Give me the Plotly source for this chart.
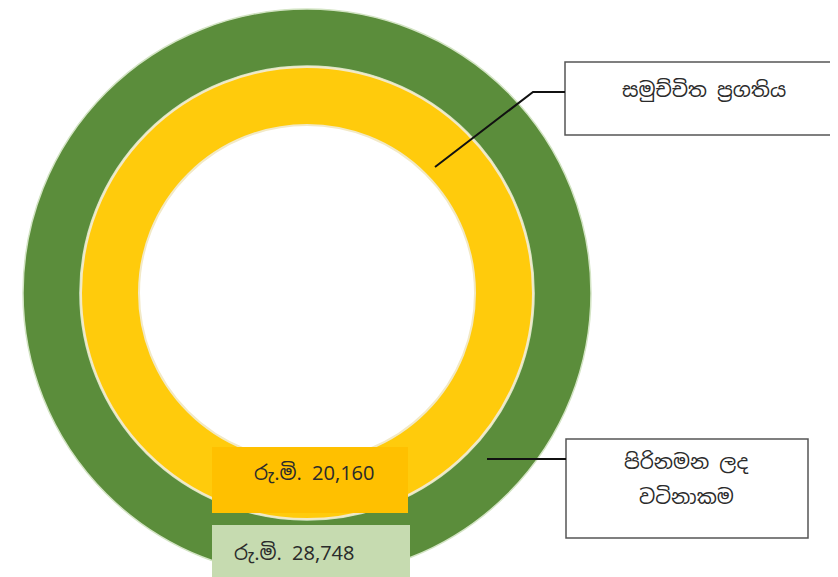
import plotly.graph_objects as go

# data
ring_names = ["පිරිනමන ලද වටිනාකම", "සමුච්චිත ප්‍රගතිය"]
ring_values = [28748, 20160]
value_labels = ["රු.මි. 28,748", "රු.මි. 20,160"]
callout_lines = [["පිරිනමන ලද", "වටිනාකම"], ["සමුච්චිත ප්‍රගතිය"]]

# page has an 8px body margin, so the figure is 8px smaller and coords are shifted
OFF = 8
W, H = 838 - OFF, 577 - OFF
FONT = "Noto Sans Sinhala, Noto Sans, sans-serif"


def px(x):
    return (x - OFF) / W


def py(y):
    # screen pixel from top -> paper from bottom
    return 1 - (y - OFF) / H


def ring_domain(cx, cy, r):
    return dict(x=[px(cx - r), px(cx + r)], y=[max(0, py(cy + r)), min(1, py(cy - r))])


cx, cy = 307, 293

fig = go.Figure()

# outer ring (green)
fig.add_trace(go.Pie(
    values=[ring_values[0]], labels=[ring_names[0]],
    domain=ring_domain(cx, cy, 284), hole=227 / 284,
    marker=dict(colors=["#5B8D3B"], line=dict(color="#D3E4C4", width=1.5)),
    textinfo="none", sort=False, showlegend=False,
))
# inner ring (yellow)
fig.add_trace(go.Pie(
    values=[ring_values[1]], labels=[ring_names[1]],
    domain=ring_domain(cx, cy, 226), hole=168 / 226,
    marker=dict(colors=["#FFCB0C"], line=dict(color="#F2E9C6", width=2)),
    textinfo="none", sort=False, showlegend=False,
))

shapes = []
annotations = []


def add_text(txt, x, y, size):
    # left anchored: plotly mis-measures the Sinhala runs when centering
    annotations.append(dict(x=px(x), y=py(y), xref="paper", yref="paper",
                            text=txt, showarrow=False, xanchor="left", align="left",
                            yanchor="middle",
                            font=dict(family=FONT, size=size, color="#2B2B2B")))


# value label boxes
boxes = [
    dict(x0=212, x1=410, y0=525, y1=585, fill="#C6DBB0", tx=232, ty=553),
    dict(x0=212, x1=408, y0=447, y1=513, fill="#FFC000", tx=252, ty=473),
]
for b, txt in zip(boxes, value_labels):
    shapes.append(dict(type="rect", xref="paper", yref="paper",
                       x0=px(b["x0"]), x1=px(b["x1"]), y0=py(b["y1"]), y1=py(b["y0"]),
                       fillcolor=b["fill"], line_width=0, layer="above"))
    add_text(txt, b["tx"], b["ty"], 20)

# callout boxes
callouts = [
    dict(x0=566, x1=808, y0=439, y1=538, tx=[622, 637], ty=[462, 497],
         path=[(487, 459), (566, 459)]),
    dict(x0=565, x1=836, y0=62, y1=135, tx=[620], ty=[90],
         path=[(435, 167), (533, 92), (565, 92)]),
]
for c, lines in zip(callouts, callout_lines):
    shapes.append(dict(type="rect", xref="paper", yref="paper",
                       x0=px(c["x0"]), x1=px(c["x1"]), y0=py(c["y1"]), y1=py(c["y0"]),
                       fillcolor="white", line=dict(color="#555555", width=1.5),
                       layer="above"))
    p = " L ".join(f"{px(x)} {py(y)}" for x, y in c["path"])
    shapes.append(dict(type="path", xref="paper", yref="paper", path="M " + p,
                       line=dict(color="#111111", width=2), layer="above"))
    for line, tx, ty in zip(lines, c["tx"], c["ty"]):
        add_text(line, tx, ty, 20)

fig.update_layout(
    width=W, height=H,
    margin=dict(l=0, r=0, t=0, b=0),
    paper_bgcolor="white", plot_bgcolor="white",
    shapes=shapes, annotations=annotations,
)

fig.write_html("out.html")
